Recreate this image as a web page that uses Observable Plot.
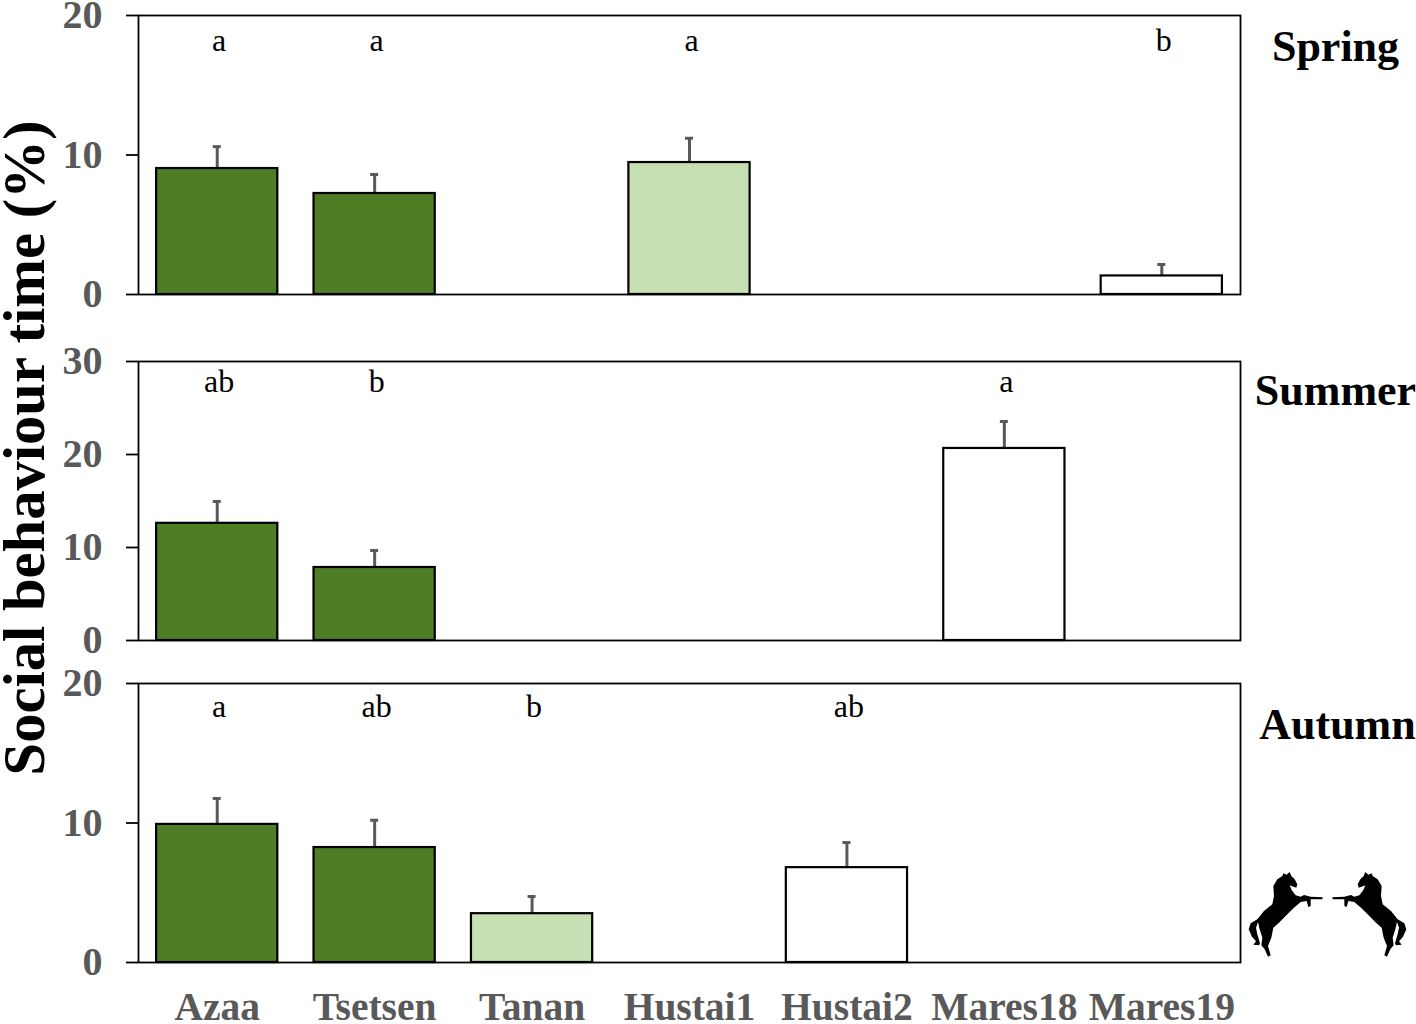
<!DOCTYPE html>
<html><head><meta charset="utf-8">
<script src="https://cdn.jsdelivr.net/npm/d3@7"></script>
<script src="https://cdn.jsdelivr.net/npm/@observablehq/plot@0.6"></script>
<style>
html,body{margin:0;padding:0;background:#fff;}
#wrap{position:relative;width:1416px;height:1024px;overflow:hidden;}
#wrap>svg{position:absolute;left:0;overflow:visible;}
</style></head><body><div id="wrap"></div>
<script>
const groups = ["Azaa","Tsetsen","Tanan","Hustai1","Hustai2","Mares18","Mares19"];

const springGroups = ["Azaa","Tsetsen","Hustai1","Mares19"];
const springMeans  = [9.03,7.24,9.46,1.33];
const springTops   = [10.6,8.6,11.2,2.15];
const springFills  = ["dark","dark","light","none"];
const springLetters= ["a","a","a","b"];

const summerGroups = ["Azaa","Tsetsen","Mares18"];
const summerMeans  = [12.6,7.85,20.65];
const summerTops   = [14.95,9.68,23.55];
const summerFills  = ["dark","dark","none"];
const summerLetters= ["ab","b","a"];

const autumnGroups = ["Azaa","Tsetsen","Tanan","Hustai2"];
const autumnMeans  = [9.9,8.24,3.5,6.8];
const autumnTops   = [11.76,10.2,4.73,8.6];
const autumnFills  = ["dark","dark","light","none"];
const autumnLetters= ["a","ab","b","ab"];

const colours = {dark:"#4e7d26", light:"#c6e0b4", none:"#ffffff"};
const serif = "'Liberation Serif','Times New Roman',serif";
const horsePath = "M118 22 L128 26 L137 18 L142 30 L152 40 L160 55 L157 65 L148 62 L137 58 L143 72 L155 88 L170 92 L180 87 L200 92 L236 94 L235 100 L200 100 L200 120 L193 123 L188 105 L170 108 L150 125 L130 145 L105 170 L88 185 L82 215 L72 240 L80 268 L72 272 L62 250 L52 238 L55 215 L47 190 L42 168 L36 185 L40 205 L48 232 L45 238 L28 236 L36 226 L24 212 L14 190 L20 172 L40 160 L60 135 L85 115 L90 90 L88 60 L100 40 L115 30 Z";
const wrap = document.getElementById("wrap");

function panel({name,gs,means,tops,fills,letters,yMax,yTicks,letterY,titleY,top,height,marginTop,marginBottom,showX,titleDx,extra}){
  const rows = gs.map((g,i)=>({g,mean:means[i],top:tops[i],fill:colours[fills[i]],letter:letters[i]}));
  const bw = 1102/7*0.77;
  const capInset = (bw-8)/2;
  const chart = Plot.plot({
    width:1416,height,marginLeft:138,marginRight:176,marginTop,marginBottom,
    style:{background:"none",overflow:"visible",fontFamily:serif},
    x:{domain:groups,paddingInner:0.23,paddingOuter:0.115,align:0.5,round:false,label:null},
    y:{domain:[0,yMax],label:null},
    marks:[
      Plot.frame({stroke:"#000",strokeWidth:1.8}),
      Plot.axisY({ticks:yTicks,tickFormat:d=>d,tickSize:12,tickPadding:24,fontSize:40,fontWeight:"bold",
        fill:"#595959",stroke:"#000",strokeWidth:1.8,label:null,textStroke:"none"}),
      showX ? Plot.axisX({tickSize:0,tickPadding:29,fontSize:39.5,fontWeight:"bold",fill:"#595959",label:null})
            : Plot.axisX({ticks:[],label:null}),
      Plot.ruleX(rows,{x:"g",y1:"mean",y2:"top",stroke:"#595959",strokeWidth:3}),
      Plot.tickY(rows,{x:"g",y:"top",stroke:"#595959",strokeWidth:3,insetLeft:capInset,insetRight:capInset}),
      Plot.barY(rows,{x:"g",y:"mean",fill:"fill",stroke:"#000",strokeWidth:2.2}),
      Plot.text(rows,{x:"g",y:()=>letterY,text:"letter",fontSize:32,fill:"#000",dx:2,dy:-1.5}),
      Plot.text([name],{frameAnchor:"right",dx:titleDx,y:()=>titleY,text:d=>d,fontSize:44,fontWeight:"bold",fill:"#000",textAnchor:"middle"}),
      ...(extra||[])
    ]
  });
  chart.style.top = top+"px";
  wrap.appendChild(chart);
}

panel({name:"Spring",gs:springGroups,means:springMeans,tops:springTops,fills:springFills,letters:springLetters,
  yMax:20,yTicks:[0,10,20],letterY:18.05,titleY:17.78,top:0,height:340,marginTop:15,marginBottom:46,titleDx:95});
panel({name:"Summer",gs:summerGroups,means:summerMeans,tops:summerTops,fills:summerFills,letters:summerLetters,
  yMax:30,yTicks:[0,10,20,30],letterY:27.7,titleY:26.88,top:340,height:320,marginTop:21,marginBottom:20,titleDx:95,
  extra:[Plot.text(["Social behaviour time (%)"],{frameAnchor:"left",dx:-113,dy:-53,text:d=>d,rotate:-90,textAnchor:"middle",fontSize:58.6,fontWeight:"bold",fill:"#000"})]});
panel({name:"Autumn",gs:autumnGroups,means:autumnMeans,tops:autumnTops,fills:autumnFills,letters:autumnLetters,
  yMax:20,yTicks:[0,10,20],letterY:18.2,titleY:17,top:660,height:364,marginTop:23,marginBottom:62,showX:true,titleDx:97});

// decorative rearing-horse silhouettes beside the autumn panel
[[1244,1],[1325,-1]].forEach(([left,flip])=>{
  const s = d3.create("svg").attr("width",86).attr("height",96).attr("viewBox","0 0 258 288")
    .style("left",left+"px").style("top","866px").style("transform",`scaleX(${flip})`);
  s.append("path").attr("d",horsePath).attr("fill","#000");
  wrap.appendChild(s.node());
});
</script></body></html>
